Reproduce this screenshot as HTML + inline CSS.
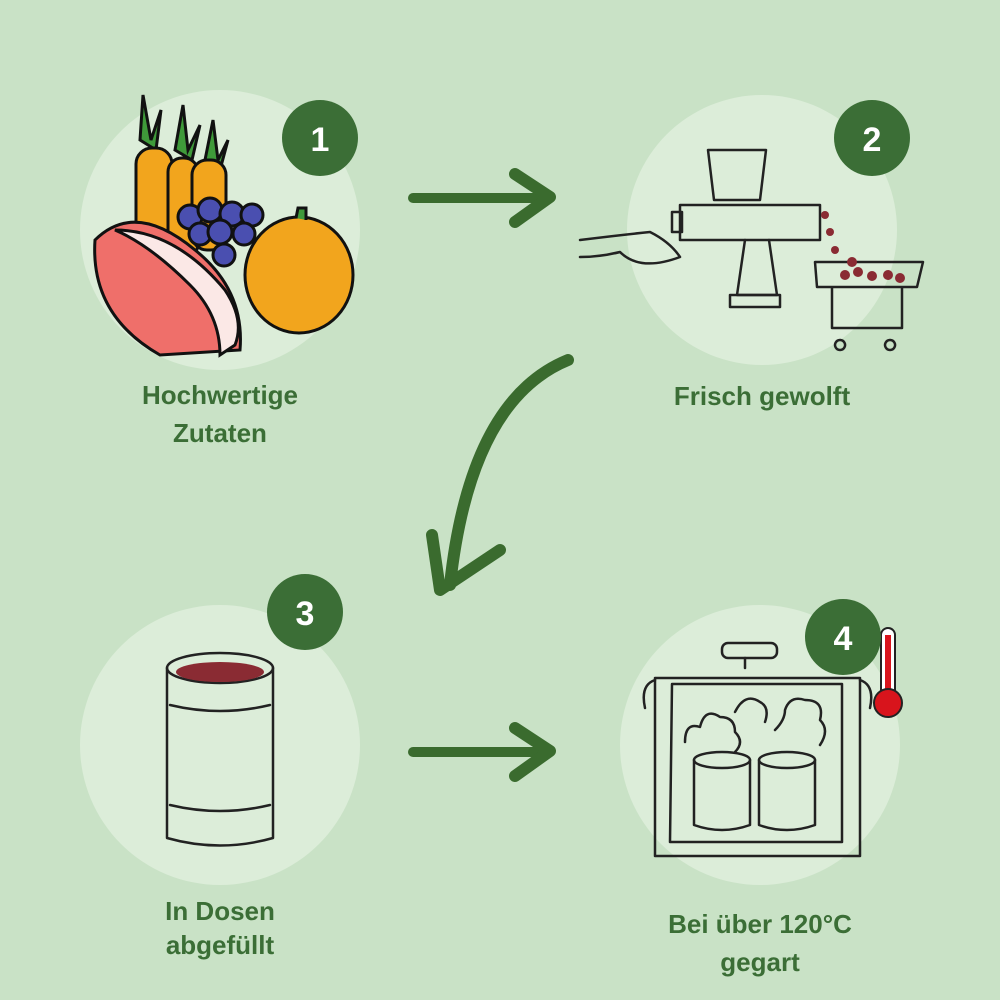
<!DOCTYPE html>
<html><head><meta charset="utf-8"><style>
body{margin:0;width:1000px;height:1000px;background:#c9e2c6;overflow:hidden;font-family:"Liberation Sans",sans-serif}
svg{position:absolute;left:0;top:0}
.t{font-family:"Liberation Sans Narrow","Liberation Sans",sans-serif;font-size:26px;font-weight:bold;fill:#3b6e36;text-anchor:middle}
.b{font-family:"Liberation Sans",sans-serif;font-size:34px;font-weight:bold;fill:#fff;text-anchor:middle}
.l{fill:none;stroke:#222;stroke-width:2.5;stroke-linecap:round;stroke-linejoin:round}
</style></head><body>
<svg width="1000" height="1000" viewBox="0 0 1000 1000">
<g fill="#dcedd9">
<circle cx="220" cy="230" r="140"/><circle cx="762" cy="230" r="135"/>
<circle cx="220" cy="745" r="140"/><circle cx="760" cy="745" r="140"/>
</g>
<!-- step1 -->
<g stroke="#111" stroke-width="3">
<path d="M140 140 l3 -45 l8 45 l10 -30 l-5 40 z" fill="#3f9a3a"/>
<path d="M175 150 l8 -45 l5 45 l12 -25 l-8 35 z" fill="#3f9a3a"/>
<path d="M205 160 l8 -40 l5 40 l10 -20 l-8 30 z" fill="#3f9a3a"/>
<rect x="136" y="148" width="36" height="100" rx="16" fill="#f2a51d"/>
<rect x="168" y="158" width="30" height="100" rx="14" fill="#f2a51d"/>
<rect x="192" y="160" width="34" height="90" rx="15" fill="#f2a51d"/>
<g fill="#4a4fb0"><circle cx="190" cy="217" r="12"/><circle cx="210" cy="210" r="12"/><circle cx="232" cy="214" r="12"/><circle cx="252" cy="215" r="11"/><circle cx="200" cy="234" r="11"/><circle cx="220" cy="232" r="12"/><circle cx="244" cy="234" r="11"/><circle cx="224" cy="255" r="11"/></g>
<ellipse cx="299" cy="275" rx="54" ry="58" fill="#f2a51d"/>
<path d="M296 218 l2 -10 l8 0 l0 12" fill="#3f9a3a"/>
<path d="M95 240 q40 -40 100 10 q50 40 45 100 l-80 5 q-70 -40 -65 -115z" fill="#ef6f6a"/>
<path d="M115 230 q60 0 110 60 q20 30 10 55 l-15 10 q0 -40 -30 -70 q-40 -40 -75 -55z" fill="#fbe8e6"/>
</g>
<circle cx="320" cy="138" r="38" fill="#3b6e36"/><text class="b" x="320" y="151">1</text>
<text class="t" x="220" y="404">Hochwertige</text><text class="t" x="220" y="442">Zutaten</text>
<!-- step2 -->
<g class="l">
<path d="M708 150 h58 l-6 50 h-46z"/><path d="M680 205 h140 v35 h-140z"/><path d="M672 212 h10 v20 h-10z"/>
<path d="M745 240 l-8 55 h40 l-8 -55"/><path d="M730 295 h50 v12 h-50z"/>
<path d="M580 240 q40 -5 70 -8 q20 10 30 25 q-40 15 -60 -5 q-20 5 -40 5"/>
<path d="M815 262 h108 l-6 25 h-100z M832 288 v40 h70 v-40 M840 340 a5 5 0 1 0 0.1 0 M890 340 a5 5 0 1 0 0.1 0"/>
</g>
<g fill="#8a2b33"><circle cx="825" cy="215" r="4"/><circle cx="830" cy="232" r="4"/><circle cx="835" cy="250" r="4"/><circle cx="845" cy="275" r="5"/><circle cx="858" cy="272" r="5"/><circle cx="872" cy="276" r="5"/><circle cx="888" cy="275" r="5"/><circle cx="852" cy="262" r="5"/><circle cx="900" cy="278" r="5"/></g>
<circle cx="872" cy="138" r="38" fill="#3b6e36"/><text class="b" x="872" y="151">2</text>
<text class="t" x="762" y="405">Frisch gewolft</text>
<!-- step3 -->
<g class="l"><ellipse cx="220" cy="668" rx="53" ry="15"/><path d="M167 668 v170 q53 15 106 0 v-170"/><path d="M170 705 q50 12 100 0 M170 805 q50 12 100 0"/></g>
<g fill="#8a2b33"><ellipse cx="220" cy="672" rx="44" ry="10"/></g>
<circle cx="305" cy="612" r="38" fill="#3b6e36"/><text class="b" x="305" y="625">3</text>
<text class="t" x="220" y="920">In Dosen</text><text class="t" x="220" y="954">abgefüllt</text>
<!-- step4 -->
<g class="l">
<rect x="722" y="643" width="55" height="15" rx="6"/><path d="M745 658 v10"/>
<path d="M655 678 h205 v178 h-205z M672 684 h170 v158 h-172z"/>
<path d="M655 680 q-15 5 -10 28 M860 680 q15 5 10 28"/>
<path d="M685 742 q0 -20 15 -15 q5 -20 20 -10 q15 0 15 15 q10 10 0 20 M735 712 q10 -20 25 -10 q10 5 5 20 M775 730 q10 -10 10 -20 q5 -15 20 -10 q20 0 15 20 q10 10 0 25"/>
<ellipse cx="722" cy="760" rx="28" ry="8"/><path d="M694 760 v65 q28 10 56 0 v-65"/>
<ellipse cx="787" cy="760" rx="28" ry="8"/><path d="M759 760 v65 q28 10 56 0 v-65"/>
</g>
<rect x="881" y="628" width="14" height="70" rx="7" fill="#fff" stroke="#222" stroke-width="2"/>
<rect x="885" y="635" width="6" height="65" fill="#d8141c"/>
<circle cx="888" cy="703" r="14" fill="#d8141c" stroke="#222" stroke-width="2"/>
<circle cx="843" cy="637" r="38" fill="#3b6e36"/><text class="b" x="843" y="650">4</text>
<text class="t" x="760" y="933">Bei über 120°C</text><text class="t" x="760" y="971">gegart</text>
<!-- arrows -->
<g fill="none" stroke="#3a6b2e" stroke-linecap="round" stroke-linejoin="round">
<path d="M413 198 H548" stroke-width="10"/><path d="M515 174 L550 197 L515 222" stroke-width="12"/>
<path d="M413 752 H548" stroke-width="10"/><path d="M515 728 L550 751 L515 776" stroke-width="12"/>
<path d="M568 360 Q470 400 450 585" stroke-width="12"/><path d="M432 535 L440 590 L500 550" stroke-width="12"/>
</g>
</svg>
</body></html>
